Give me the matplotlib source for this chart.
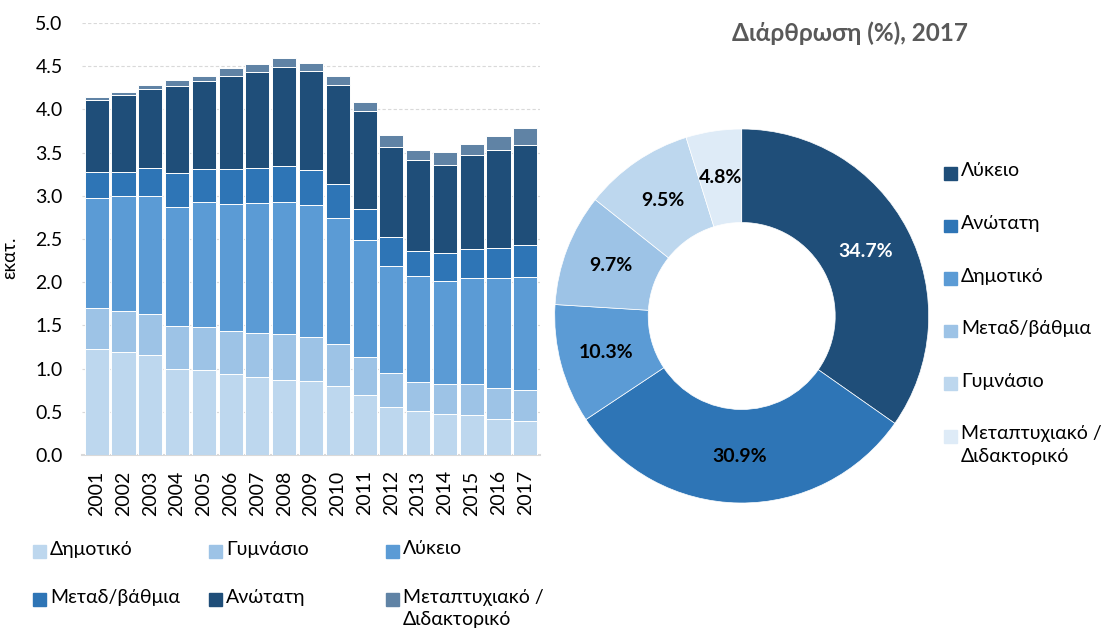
import matplotlib
matplotlib.use("Agg")
import matplotlib.pyplot as plt
from matplotlib.patches import Rectangle
import numpy as np

plt.rcParams['font.family'] = ['Lato', 'DejaVu Sans']

years = [str(y) for y in range(2001, 2018)]
series = ['Δημοτικό', 'Γυμνάσιο', 'Λύκειο', 'Μεταδ/βάθμια', 'Ανώτατη',
          'Μεταπτυχιακό /\nΔιδακτορικό']
dimotiko = [1.23, 1.19, 1.16, 0.99, 0.98, 0.94, 0.90, 0.87, 0.86, 0.80, 0.70,
            0.56, 0.51, 0.48, 0.46, 0.42, 0.39]
gymnasio = [0.47, 0.48, 0.47, 0.50, 0.50, 0.49, 0.51, 0.53, 0.51, 0.49, 0.43,
            0.39, 0.34, 0.34, 0.36, 0.35, 0.36]
lykeio = [1.27, 1.33, 1.37, 1.38, 1.45, 1.48, 1.51, 1.53, 1.52, 1.45, 1.36,
          1.24, 1.22, 1.19, 1.23, 1.28, 1.31]
metadeyt = [0.30, 0.28, 0.32, 0.39, 0.38, 0.40, 0.40, 0.42, 0.41, 0.40, 0.36,
            0.33, 0.29, 0.33, 0.34, 0.35, 0.37]
anotati = [0.84, 0.89, 0.92, 1.01, 1.02, 1.08, 1.11, 1.14, 1.14, 1.14, 1.13,
           1.04, 1.05, 1.02, 1.08, 1.13, 1.16]
metaptyx = [0.03, 0.03, 0.04, 0.07, 0.06, 0.09, 0.09, 0.10, 0.10, 0.11, 0.11,
            0.14, 0.12, 0.15, 0.13, 0.16, 0.19]
bar_colors = ['#BDD7EE', '#9DC3E6', '#5B9BD5', '#2E75B6', '#1F4E79', '#6083A5']

donut_labels = ['Λύκειο', 'Ανώτατη', 'Δημοτικό', 'Μεταδ/βάθμια', 'Γυμνάσιο',
                'Μεταπτυχιακό /\nΔιδακτορικό']
donut_vals = [34.7, 30.9, 10.3, 9.7, 9.5, 4.8]
donut_colors = ['#1F4E79', '#2E75B6', '#5B9BD5', '#9DC3E6', '#BDD7EE', '#DEEBF7']

W, H = 1103, 633
fig = plt.figure(figsize=(W / 100, H / 100), dpi=100)
FS = 14

# stacked bars
ax = fig.add_axes([82 / W, 1 - 455 / H, 458 / W, 432 / H])
x = np.arange(len(years))
bottom = np.zeros(len(years))
for vals, col in zip([dimotiko, gymnasio, lykeio, metadeyt, anotati, metaptyx], bar_colors):
    ax.bar(x, vals, 0.9, bottom=bottom, color=col, edgecolor='white', linewidth=0.7, zorder=3)
    bottom += np.array(vals)
ax.set_xlim(-0.55, 16.55)
ax.set_ylim(0, 5)
ax.set_yticks(np.arange(0, 5.01, 0.5))
ax.set_yticklabels([f'{v:.1f}' for v in np.arange(0, 5.01, 0.5)], fontsize=FS)
ax.set_xticks(x)
ax.set_xticklabels(years, rotation=90, fontsize=FS)
ax.tick_params(length=0)
ax.tick_params(axis='y', pad=14)
ax.tick_params(axis='x', pad=11)
ax.grid(axis='y', color='#D9D9D9', linestyle=(0, (3, 2)), linewidth=0.8, zorder=0)
for s in ['top', 'right', 'left']:
    ax.spines[s].set_visible(False)
ax.spines['bottom'].set_color('#D9D9D9')
ax.spines['bottom'].set_linewidth(1.5)
ax.set_ylabel('εκατ.', fontsize=FS - 0.5)
ax.yaxis.set_label_coords((18 - 82) / 458, (455 - 258) / 432)


def legend_item(px, py, color, label):
    fig.patches.append(Rectangle((px / W, 1 - (py + 6.5) / H), 12.5 / W, 12.5 / H,
                                 transform=fig.transFigure, color=color))
    fig.text((px + 17) / W, 1 - (py - 10.5) / H, label, fontsize=FS, va='top',
             ha='left', color='#000000', linespacing=1.4)


# bottom legend
pos = [(33, 551), (209, 551), (386, 551), (33, 599), (209, 599), (386, 599)]
for (px, py), col, lab in zip(pos, bar_colors, series):
    legend_item(px, py, col, lab)

# donut
R = 187
ax2 = fig.add_axes([(741.7 - R) / W, 1 - (316 + R) / H, 2 * R / W, 2 * R / H])
wedges, texts, autotexts = ax2.pie(
    donut_vals, colors=donut_colors, startangle=90, counterclock=False,
    radius=1, wedgeprops=dict(width=0.5, edgecolor='white', linewidth=0.5),
    autopct='%.1f%%', pctdistance=0.75,
    textprops=dict(fontsize=FS, fontweight='bold', color='black'))
autotexts[0].set_color('white')
ax2.set_xlim(-1, 1)
ax2.set_ylim(-1, 1)
ax2.set_aspect('equal')
ax2.axis('off')

fig.text(850 / W, 1 - 33 / H, 'Διάρθρωση (%), 2017', fontsize=17.5, fontweight='bold',
         color='#595959', ha='center', va='center')

# right legend
for i, (col, lab) in enumerate(zip(donut_colors, donut_labels)):
    legend_item(944, 173 + i * 52.6, col, lab)

fig.savefig('out.png', dpi=100)
